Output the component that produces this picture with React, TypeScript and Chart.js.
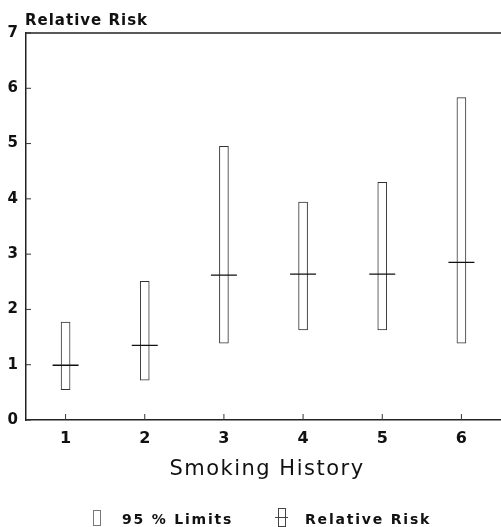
import React, { useEffect, useRef } from "react";
import { Chart, registerables } from "chart.js";

Chart.register(...registerables);

const categories = ["1", "2", "3", "4", "5", "6"];
const lowerLimits = [0.55, 0.72, 1.39, 1.63, 1.63, 1.39];
const upperLimits = [1.77, 2.51, 4.95, 3.94, 4.3, 5.83];
const relativeRisk = [0.99, 1.35, 2.62, 2.64, 2.64, 2.85];
const yTicks = [0, 1, 2, 3, 4, 5, 6, 7];

const yTitle = "Relative Risk";
const xTitle = "Smoking History";
const legendLimits = "95 % Limits";
const legendRisk = "Relative Risk";

const FONT = "'DejaVu Sans', 'Liberation Sans', sans-serif";

const decorPlugin = {
  id: "decor",
  afterDraw(chart: any) {
    const { ctx, chartArea } = chart;
    const { left, right, top, bottom } = chartArea;
    const xs = chart.scales.x;
    const ys = chart.scales.y;
    ctx.save();
    // top border
    ctx.strokeStyle = "#222";
    ctx.lineWidth = 1.5;
    ctx.beginPath();
    ctx.moveTo(left, top);
    ctx.lineTo(right, top);
    ctx.stroke();
    // inside ticks
    ctx.lineWidth = 1;
    ctx.strokeStyle = "#333";
    yTicks.forEach((v) => {
      const y = ys.getPixelForValue(v);
      ctx.beginPath();
      ctx.moveTo(left, y);
      ctx.lineTo(left + 5, y);
      ctx.stroke();
    });
    categories.forEach((_, i) => {
      const x = xs.getPixelForValue(i);
      ctx.beginPath();
      ctx.moveTo(x, bottom);
      ctx.lineTo(x, bottom - 6);
      ctx.stroke();
    });
    // texts
    ctx.fillStyle = "#111";
    ctx.textBaseline = "alphabetic";
    ctx.textAlign = "left";
    (ctx as any).letterSpacing = "1px";
    ctx.font = `bold 15px ${FONT}`;
    ctx.fillText(yTitle, 25, 25);

    (ctx as any).letterSpacing = "1.5px";
    ctx.font = `21px ${FONT}`;
    const w = ctx.measureText(xTitle).width;
    ctx.fillText(xTitle, 267 - w / 2, 475);

    // legend
    (ctx as any).letterSpacing = "1.8px";
    ctx.font = `bold 14px ${FONT}`;
    ctx.fillText(legendLimits, 122, 524);
    ctx.fillText(legendRisk, 305, 524);

    ctx.strokeStyle = "#777";
    ctx.lineWidth = 1;
    ctx.strokeRect(93.5, 510.5, 7, 15);

    ctx.strokeStyle = "#444";
    ctx.strokeRect(278.5, 508.5, 7, 18);
    ctx.beginPath();
    ctx.moveTo(275, 517.5);
    ctx.lineTo(288, 517.5);
    ctx.stroke();
    ctx.restore();
  },
};

export default function App() {
  const ref = useRef<HTMLCanvasElement | null>(null);
  useEffect(() => {
    if (!ref.current) return;
    const chart = new Chart(ref.current, {
      type: "bar",
      data: {
        labels: categories,
        datasets: [
          {
            type: "line",
            label: legendRisk,
            data: relativeRisk,
            showLine: false,
            pointStyle: "line",
            pointRadius: 13,
            pointBorderWidth: 1.3,
            borderColor: "#111",
            backgroundColor: "#111",
            order: 0,
          } as any,
          {
            type: "bar",
            label: legendLimits,
            data: lowerLimits.map((l, i) => [l, upperLimits[i]]),
            backgroundColor: "#ffffff",
            borderColor: "#333",
            borderWidth: 1,
            borderSkipped: false,
            barThickness: 9,
            order: 1,
          } as any,
        ],
      },
      options: {
        animation: false,
        responsive: false,
        maintainAspectRatio: false,
        layout: { autoPadding: false, padding: { top: 33, left: 0, right: 0, bottom: 0 } },
        plugins: {
          legend: { display: false },
          tooltip: { enabled: false },
          title: { display: false },
        },
        scales: {
          x: {
            type: "category",
            offset: true,
            grid: { display: false, drawTicks: false },
            border: { display: true, color: "#222", width: 1.5 },
            ticks: {
              color: "#111",
              padding: 9,
              font: { family: FONT, size: 16, weight: "bold" },
            },
            afterFit: (s: any) => {
              s.height = 107;
              s.paddingLeft = 0;
              s.paddingRight = 0;
            },
          },
          y: {
            type: "linear",
            min: 0,
            max: 7,
            grid: { display: false, drawTicks: false },
            border: { display: true, color: "#222", width: 1.5 },
            ticks: {
              stepSize: 1,
              color: "#111",
              padding: 8,
              font: { family: FONT, size: 15, weight: "bold" },
            },
            afterFit: (s: any) => {
              s.width = 26;
            },
          },
        },
      } as any,
      plugins: [decorPlugin],
    });
    return () => chart.destroy();
  }, []);
  return (
    <div style={{ position: "absolute", left: 0, top: 0, width: 501, height: 527, background: "#fff" }}>
      <canvas ref={ref} width={501} height={527} style={{ display: "block", width: 501, height: 527 }} />
    </div>
  );
}
